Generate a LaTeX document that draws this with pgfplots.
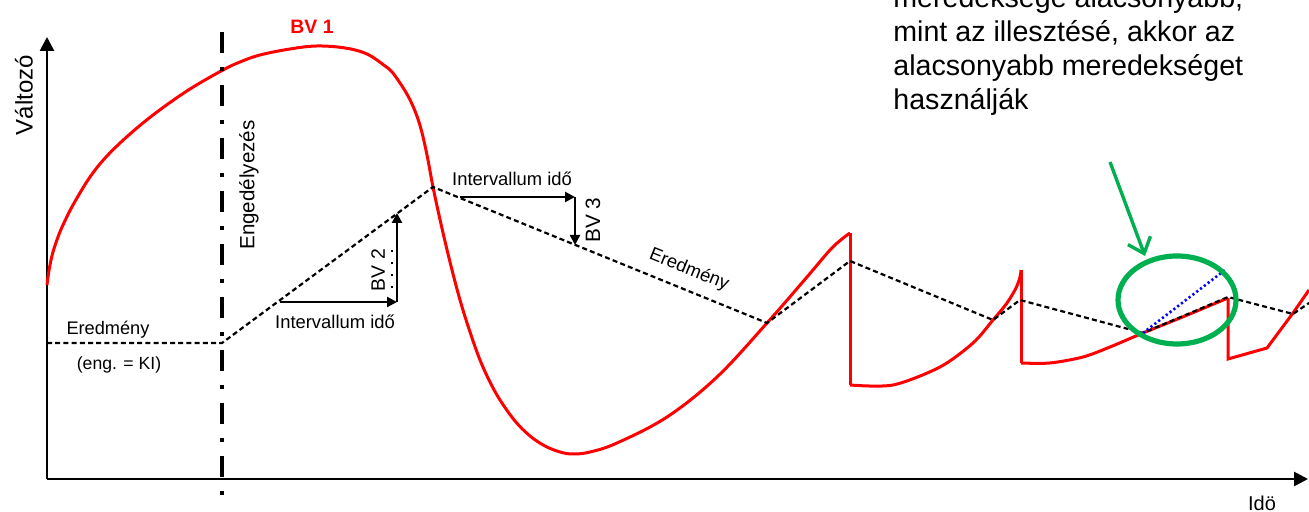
\documentclass[border=0pt]{standalone}
\usepackage{pgfplots}
\pgfplotsset{compat=1.18}
\usepackage{fontspec}
\setmainfont{Liberation Sans}
\usetikzlibrary{arrows.meta}
\definecolor{mygreen}{RGB}{0,176,80}
\begin{document}
\begin{tikzpicture}
\useasboundingbox (0,0) rectangle (654.5pt,256pt);
\clip (0,0) rectangle (654.5pt,256pt);
\begin{axis}[at={(0,0)}, anchor=south west, scale only axis,
  width=654.5pt, height=256pt, xmin=0, xmax=1309, ymin=0, ymax=512,
  hide axis, clip=false]
% axes
\draw[line width=1.3pt, -{Triangle[length=7pt,width=7pt]}] (axis cs:47,33) -- (axis cs:47,475);
\draw[line width=1.3pt, -{Triangle[length=7pt,width=7pt]}] (axis cs:47,33) -- (axis cs:1308,33);
% red curve BV1
\addplot[red, line width=1.5pt, smooth, tension=0.6] coordinates {
(47,227) (48,235) (50,247) (53,260) (58,275) (63,287) (73,307) (90,335)
(107,356) (130,378) (157,400) (190,423) (223,442) (240,450) (260,457)
(290,463) (317,466) (345,464) (367,458) (385,446) (392,440) (400,429)
(408,416) (415,401) (421,383) (427,357) (433,325) (441,288) (450,250)
(460,212) (470,180) (480,152) (490,130) (500,112) (515,91) (530,76)
(545,66) (560,60) (573,58) (590,60) (617,69)
(667,95) (717,135) (767,189) (807,235) (830,262) (842,273) (850,279)};
\addplot[red, line width=1.5pt, sharp plot] coordinates {(850,279) (850,127)};
\addplot[red, line width=1.5pt, smooth, tension=0.5] coordinates {
(850,127) (893,127) (940,145) (973,169) (993,192) (1007,209) (1016,224) (1020,235) (1021,242)};
\addplot[red, line width=1.5pt, sharp plot] coordinates {(1021,242) (1021,149)};
\addplot[red, line width=1.5pt, smooth, tension=0.5] coordinates {
(1021,149) (1050,149) (1083,155) (1110,165) (1143,179) (1185,196) (1228,214)};
\addplot[red, line width=1.5pt, sharp plot] coordinates {
(1228,214) (1228,153) (1267,164) (1293,199) (1309,222)};
% result (dashed)
\addplot[black, line width=1.1pt, sharp plot, dash pattern=on 2.5pt off 1.6pt] coordinates {
(47,169) (222,169) (433,325) (767,189) (850,251) (993,192) (1020,212)
(1143,179) (1228,215) (1293,198) (1309,209)};
% blue dotted
\addplot[blue, line width=1.3pt, sharp plot, dash pattern=on 1.1pt off 1.3pt] coordinates {(1143,179) (1225,242)};
% enable line
\draw[black, line width=2.4pt, dash pattern=on 10.5pt off 7pt on 2pt off 7pt] (axis cs:222,480) -- (axis cs:222,12);
% BV2 arrows
\draw[line width=1.2pt, -{Triangle[length=5pt,width=5pt]}] (axis cs:280,210) -- (axis cs:397,210);
\draw[line width=1.2pt, -{Triangle[length=5pt,width=5pt]}] (axis cs:397,210) -- (axis cs:397,299);
\draw[line width=0.8pt, dash pattern=on 1pt off 5pt] (axis cs:392,262) -- (axis cs:392,222);
% BV3 arrows
\draw[line width=1.2pt, -{Triangle[length=5pt,width=5pt]}] (axis cs:460,315) -- (axis cs:575,315);
\draw[line width=1.2pt, -{Triangle[length=5pt,width=5pt]}] (axis cs:575,315) -- (axis cs:575,267);
% green ellipse and arrow
\draw[mygreen, line width=2.6pt] (axis cs:1177,212) ellipse [x radius=59, y radius=44];
\draw[mygreen, line width=1.7pt, -{Straight Barb[length=7pt,width=12pt]}] (axis cs:1110,350) -- (axis cs:1145,256);
% texts
\node[red, font=\fontsize{9.7}{11}\selectfont\bfseries] at (axis cs:312,485) {BV 1};
\node[rotate=90, font=\fontsize{12}{14}\selectfont] at (axis cs:24,417) {Változó};
\node[rotate=90, font=\fontsize{10.3}{12}\selectfont] at (axis cs:249,327) {Engedélyezés};
\node[rotate=90, font=\fontsize{9.7}{11}\selectfont] at (axis cs:378,242) {BV 2};
\node[font=\fontsize{9.2}{11}\selectfont] at (axis cs:335,190) {Intervallum idő};
\node[font=\fontsize{9.2}{11}\selectfont] at (axis cs:512,333) {Intervallum idő};
\node[rotate=90, font=\fontsize{10.4}{12}\selectfont] at (axis cs:593,292) {BV 3};
\node[rotate=-22, font=\fontsize{9.2}{11}\selectfont] at (axis cs:689,242) {Eredmény};
\node[font=\fontsize{9.1}{11}\selectfont] at (axis cs:108,182) {Eredmény};
\node[font=\fontsize{8.8}{11}\selectfont] at (axis cs:119,147) {(eng. = KI)};
\node[font=\fontsize{10}{12}\selectfont] at (axis cs:1262,9) {Idö};
\node[anchor=base west, inner sep=0pt, font=\fontsize{14.3}{17}\selectfont] at (axis cs:893,504) {meredeksége alacsonyabb,};
\node[anchor=base west, inner sep=0pt, font=\fontsize{14.3}{17}\selectfont] at (axis cs:893,470) {mint az illesztésé, akkor az};
\node[anchor=base west, inner sep=0pt, font=\fontsize{14.3}{17}\selectfont] at (axis cs:893,436) {alacsonyabb meredekséget};
\node[anchor=base west, inner sep=0pt, font=\fontsize{14.3}{17}\selectfont] at (axis cs:893,402) {használják};
\end{axis}
\end{tikzpicture}
\end{document}
